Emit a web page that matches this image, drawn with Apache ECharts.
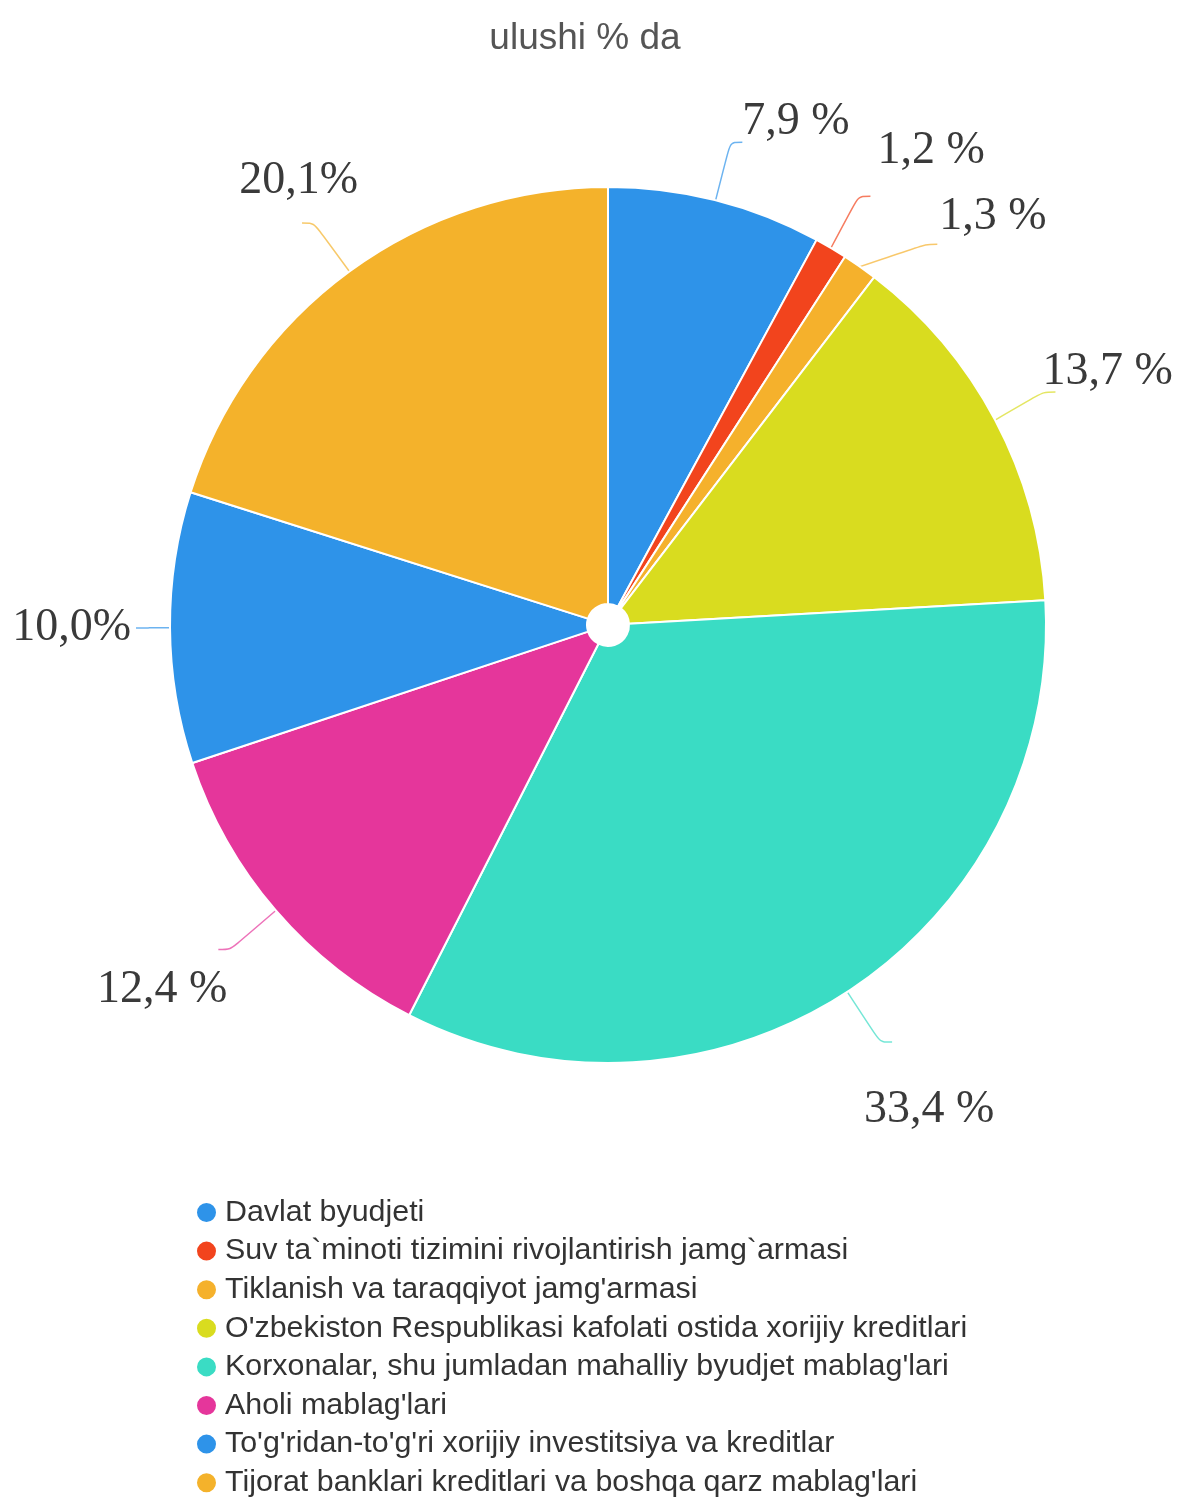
<!DOCTYPE html>
<html>
<head>
<meta charset="utf-8">
<title>ulushi % da</title>
<script src="https://cdn.jsdelivr.net/npm/echarts@6/dist/echarts.min.js"></script>
<style>
  html, body { margin: 0; padding: 0; background: #fff; }
  #chart { width: 1179px; height: 1499px; }
</style>
</head>
<body>
<div id="chart"></div>
<script>
// manba nomlari (legend)
var categories = [
  'Davlat byudjeti',
  'Suv ta`minoti tizimini rivojlantirish jamg`armasi',
  "Tiklanish va taraqqiyot jamg'armasi",
  "O'zbekiston Respublikasi kafolati ostida xorijiy kreditlari",
  "Korxonalar, shu jumladan mahalliy byudjet mablag'lari",
  "Aholi mablag'lari",
  "To'g'ridan-to'g'ri xorijiy investitsiya va kreditlar",
  "Tijorat banklari kreditlari va boshqa qarz mablag'lari"
]
var shares = [7.9, 1.2, 1.3, 13.7, 33.4, 12.4, 10.0, 20.1]
var labelTexts = ['7,9 %', '1,2 %', '1,3 %', '13,7 %', '33,4 %', '12,4 %', '10,0%', '20,1%']
var colors = ['#2e93e9', '#f2441d', '#f5b12c', '#d9dc1f', '#3adcc4', '#e5369b', '#2e93e9', '#f4b22b']

var chart = echarts.init(document.getElementById('chart'))

var pieData = categories.map(function (name, i) {
  var item = {name: name, value: shares[i], itemStyle: {color: colors[i]}}
  // 10,0% yorlig'i chiziqqa tegib turadi
  if (i === 6) item.labelLine = {length: 22, length2: 12}
  return item
})

// yorliqlarni rasmdagidek biroz surish
var nudge = [[-5, -20], [2, -45], [-3, -27], [-18, -20], [-33, 68], [14, 40], [0, 0], [61, -42]]

var option = {
  backgroundColor: '#fff',
  title: {
    text: 'ulushi % da',
    left: 580,
    textAlign: 'center',
    top: 15,
    textStyle: {fontFamily: 'Liberation Sans', fontSize: 37, fontWeight: 'normal', color: '#555'}
  },
  legend: {
    orient: 'vertical',
    left: 195,
    top: 1197,
    padding: 0,
    icon: 'circle',
    itemWidth: 21,
    itemHeight: 21,
    itemGap: 7.6,
    textStyle: {fontFamily: 'Liberation Sans', fontSize: 30.4, color: '#333', lineHeight: 31, padding: [0, 0, 0, 3]}
  },
  series: [{
    type: 'pie',
    center: [608, 625],
    radius: [21, 438],
    startAngle: 90,
    clockwise: true,
    data: pieData,
    itemStyle: {borderColor: '#fff', borderWidth: 2},
    label: {
      formatter: function (p) { return labelTexts[p.dataIndex] },
      fontFamily: 'Liberation Serif',
      fontSize: 46,
      color: '#3a3a3a',
      overflow: 'none'
    },
    labelLine: {
      length: 60,
      length2: 12,
      smooth: 0.3,
      lineStyle: {width: 1.5, opacity: 0.7}
    },
    labelLayout: function (p) {
      return {dx: nudge[p.dataIndex][0], dy: nudge[p.dataIndex][1]}
    }
  }]
}
chart.setOption(option)
</script>
</body>
</html>
